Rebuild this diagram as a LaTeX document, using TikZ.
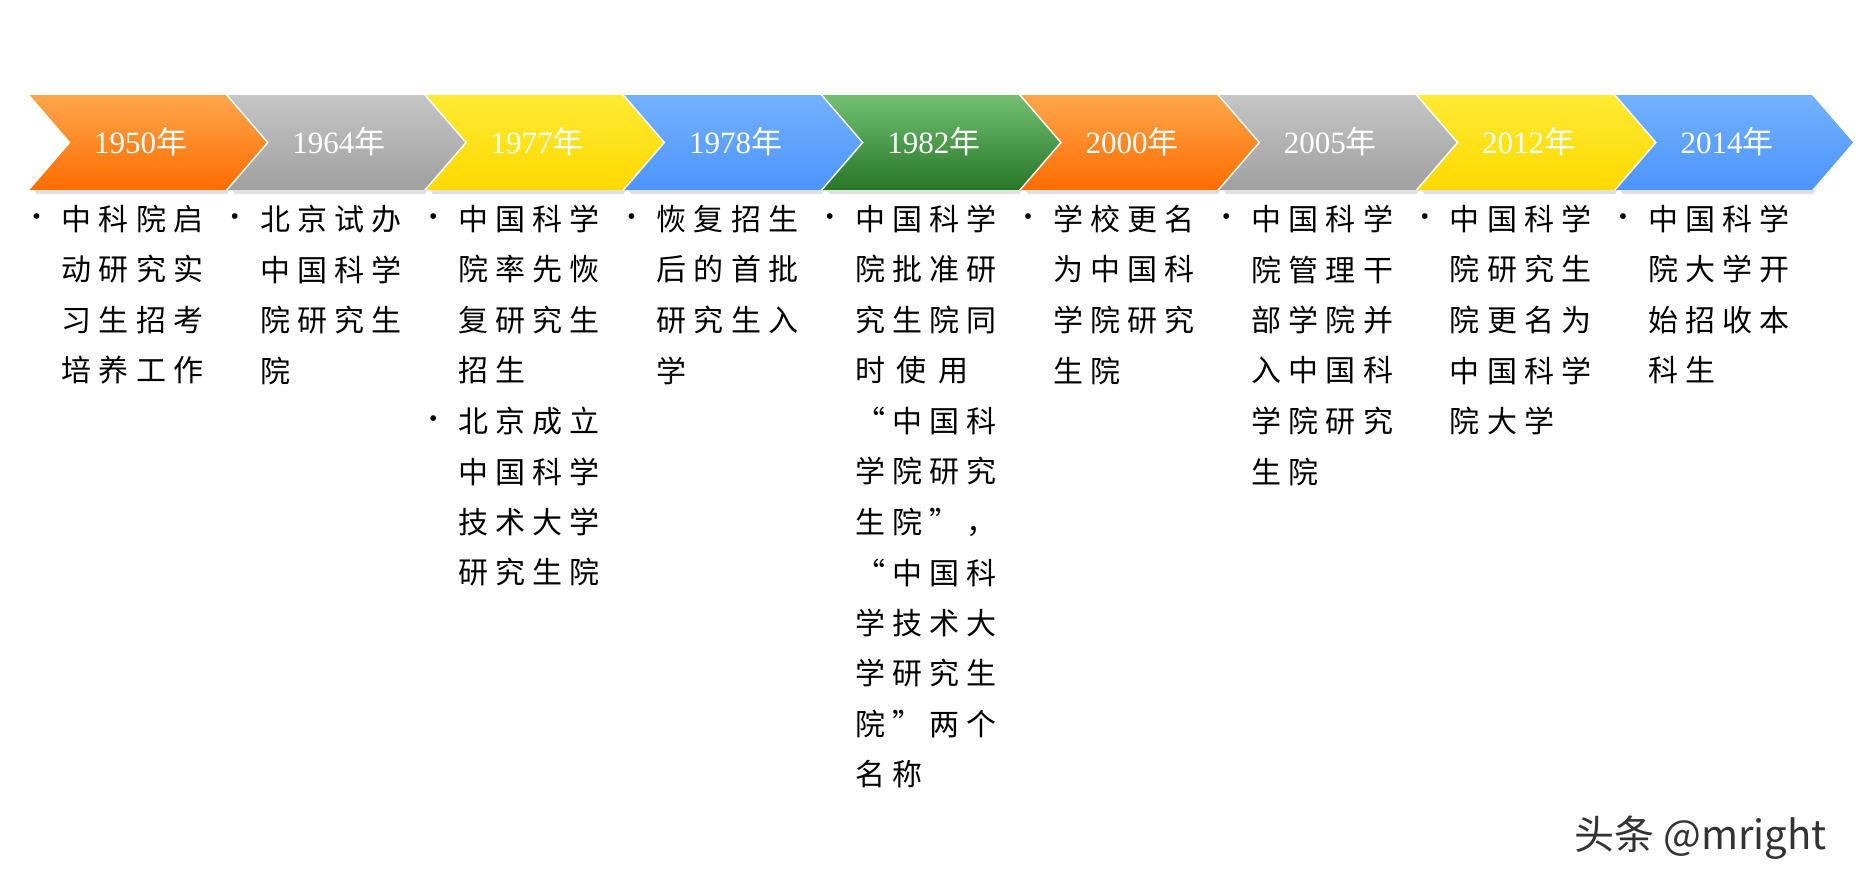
\documentclass[tikz,border=0pt]{standalone}
\usepackage{fontspec}
\setmainfont{Liberation Serif}
\newfontfamily\cjk{Noto Sans CJK SC}
\newfontfamily\cjkls[LetterSpace=24]{Noto Sans CJK SC}
\begin{document}
\begin{tikzpicture}[x=1pt,y=-1pt,
  lbl/.style={text=white,font=\fontsize{31}{31}\selectfont},
  ln/.style={anchor=west,inner sep=0pt,font=\cjkls\fontsize{30}{30}\selectfont},
  bul/.style={anchor=center,inner sep=0pt,font=\fontsize{24}{24}\selectfont}]
\useasboundingbox (0,0) rectangle (1856,889);
\fill[white] (0,0) rectangle (1856,889);
\def\chev#1#2#3#4#5{%
  \shade[top color=#2,bottom color=#3,drop shadow/.style={}] (#1,95)--++(196,0)--++(41,47.5)--++(-41,47.5)--++(-196,0)--++(41,-47.5)--cycle;
  \fill[black!12] (#1+4,190)--++(196,0)--++(-3,4)--++(-190,0)--cycle;
  \node[lbl] (#5) at (#1+111,142) {#4\cjk 年};}
\chev{29.6}{orange!70!white}{orange!85!red}{1950}{c1}
\chev{227.9}{gray!45}{gray!75}{1964}{c2}
\chev{426.2}{yellow!80!orange!80!white}{yellow!70!orange}{1977}{c3}
\chev{624.5}{cyan!45!blue!55}{cyan!40!blue!70}{1978}{c4}
\chev{822.8}{green!55!black!55!white}{green!45!black!70!gray}{1982}{c5}
\chev{1021.1}{orange!70!white}{orange!85!red}{2000}{c6}
\chev{1219.4}{gray!45}{gray!75}{2005}{c7}
\chev{1417.7}{yellow!80!orange!80!white}{yellow!70!orange}{2012}{c8}
\chev{1616}{cyan!45!blue!55}{cyan!40!blue!70}{2014}{c9}
% text columns
\def\col#1#2{\foreach \t [count=\i from 0] in {#2} {\node[ln] at (#1+32,219+50.5*\i) {\t};}}
\def\bu#1#2{\node[bul] at (#1+7,#2) {•};}
\bu{29.6}{219}\col{29.6}{中科院启,动研究实,习生招考,培养工作}
\bu{227.9}{219}\col{227.9}{北京试办,中国科学,院研究生,院}
\bu{426.2}{219}\col{426.2}{中国科学,院率先恢,复研究生,招生,北京成立,中国科学,技术大学,研究生院}
\bu{426.2}{421}
\bu{624.5}{219}\col{624.5}{恢复招生,后的首批,研究生入,学}
\bu{822.8}{219}\col{822.8}{中国科学,院批准研,究生院同,时\hspace{0.4em}使\hspace{0.4em}用,“中国科,学院研究,生院”，,“中国科,学技术大,学研究生,院”两个,名称}
\bu{1021.1}{219}\col{1021.1}{学校更名,为中国科,学院研究,生院}
\bu{1219.4}{219}\col{1219.4}{中国科学,院管理干,部学院并,入中国科,学院研究,生院}
\bu{1417.7}{219}\col{1417.7}{中国科学,院研究生,院更名为,中国科学,院大学}
\bu{1616}{219}\col{1616}{中国科学,院大学开,始招收本,科生}
\node[anchor=east,font=\cjk\fontsize{40}{40}\selectfont,text=black!80] (wm) at (1830,838) {头条 @mright};
\end{tikzpicture}
\end{document}
